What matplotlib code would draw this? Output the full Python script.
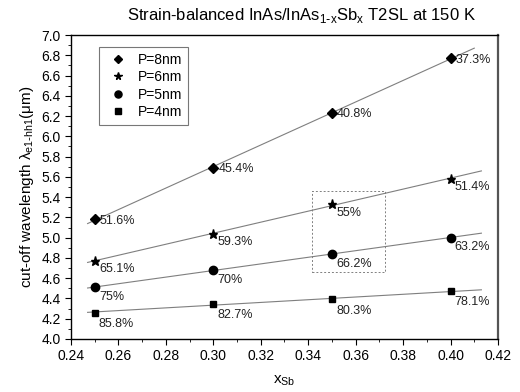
import numpy as np
import matplotlib.pyplot as plt
from matplotlib.ticker import MultipleLocator
from matplotlib.patches import Rectangle

plt.rcParams['font.family'] = ['Liberation Sans', 'DejaVu Sans']

x_sb = [0.25, 0.30, 0.35, 0.40]
labels = ['P=8nm', 'P=6nm', 'P=5nm', 'P=4nm']
markers = ['D', '*', 'o', 's']
wl_8nm = [5.18, 5.69, 6.23, 6.77]
wl_6nm = [4.77, 5.04, 5.33, 5.58]
wl_5nm = [4.51, 4.68, 4.84, 5.00]
wl_4nm = [4.26, 4.35, 4.39, 4.47]
pct_8nm = ['51.6%', '45.4%', '40.8%', '37.3%']
pct_6nm = ['65.1%', '59.3%', '55%', '51.4%']
pct_5nm = ['75%', '70%', '66.2%', '63.2%']
pct_4nm = ['85.8%', '82.7%', '80.3%', '78.1%']

series = [wl_8nm, wl_6nm, wl_5nm, wl_4nm]
pcts = [pct_8nm, pct_6nm, pct_5nm, pct_4nm]
# label offsets (points) per series
offsets = [(3.5, -1), (3, -6), (3, -7), (3, -8)]
sizes = [5, 6.5, 6, 5]
fit_end = [0.410, 0.413, 0.413, 0.413]

fig = plt.figure(figsize=(5.2, 3.92), dpi=100)
ax = fig.add_axes([71/520, 1 - 339/392, 427/520, 304/392])

for y, lab, m, p, off, ms, xe in zip(series, labels, markers, pcts, offsets, sizes, fit_end):
    xfit = np.array([0.247, xe])
    k, b = np.polyfit(x_sb, y, 1)
    ax.plot(xfit, k * xfit + b, color='#7f7f7f', lw=0.8, zorder=1)
    ax.plot(x_sb, y, m, color='black', ms=ms, label=lab, zorder=3, ls='none')
    for xi, yi, t in zip(x_sb, y, p):
        ax.annotate(t, (xi, yi), xytext=off, textcoords='offset points',
                    fontsize=9, va='center', ha='left', color='#222222')

ax.add_patch(Rectangle((0.3415, 4.66), 0.031, 0.80, fill=False,
                       ls=(0, (2, 2)), lw=0.7, edgecolor='gray', zorder=0))

ax.set_xlim(0.24, 0.42)
ax.set_ylim(4.0, 7.0)
ax.xaxis.set_major_locator(MultipleLocator(0.02))
ax.xaxis.set_minor_locator(MultipleLocator(0.01))
ax.yaxis.set_major_locator(MultipleLocator(0.2))
ax.yaxis.set_minor_locator(MultipleLocator(0.1))
ax.tick_params(which='both', direction='out', labelsize=10)
ax.tick_params(which='major', length=4)
ax.tick_params(which='minor', length=2)
ax.xaxis.set_major_formatter(plt.FormatStrFormatter('%.2f'))
ax.yaxis.set_major_formatter(plt.FormatStrFormatter('%.1f'))
for s in ax.spines.values():
    s.set_linewidth(1.0)
ax.spines['right'].set_linewidth(1.6)
ax.spines['right'].set_color('#555555')

ax.set_xlabel(r'x$_{\mathregular{Sb}}$', fontsize=11, labelpad=7)
ax.set_ylabel(r'cut-off wavelength λ$_{\mathregular{e1\text{-}hh1}}$(μm)', fontsize=11)
ax.set_title(r'Strain-balanced InAs/InAs$_{\mathregular{1\text{-}x}}$Sb$_{\mathregular{x}}$ T2SL at 150 K',
             fontsize=12, x=0.54, pad=11)

leg = ax.legend(loc='upper left', bbox_to_anchor=(0.05, 0.985), fancybox=False,
                edgecolor='#555555', fontsize=10, handletextpad=0.5, borderpad=0.45,
                labelspacing=0.25, handlelength=1.8, markerscale=0.85)
leg.get_frame().set_linewidth(0.8)

fig.savefig('out.png', dpi=100)
